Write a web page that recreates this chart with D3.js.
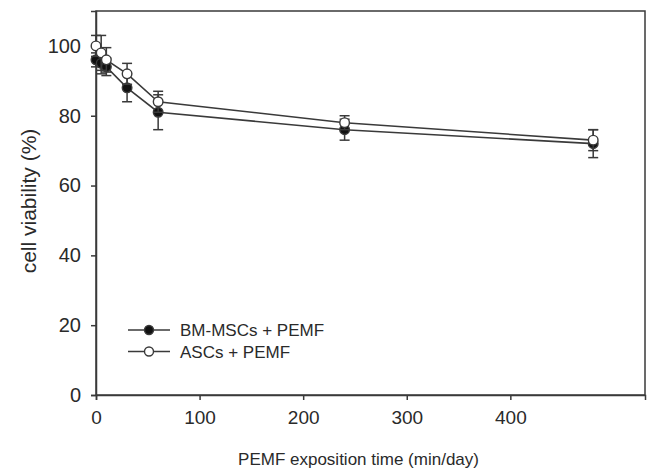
<!DOCTYPE html>
<meta charset="utf-8">
<script src="https://d3js.org/d3.v7.min.js"></script>
<style>
  body { margin: 0; background: #fff; }
  text { font-family: "Liberation Sans", Arial, sans-serif; fill: #2a2a2a; }
</style>
<div id="my_dataviz"></div>
<script>
// data
var times = [0, 5, 10, 30, 60, 240, 480];
var bmValues = [96, 95, 94, 88, 81, 76, 72];
var bmErrors = [2, 3, 2.5, 4, 5, 3, 4];
var ascValues = [100, 98, 96, 92, 84, 78, 73];
var ascErrors = [3, 5, 3.5, 3, 3, 2, 3];
var seriesNames = ["BM-MSCs + PEMF", "ASCs + PEMF"];
var xTicks = [0, 100, 200, 300, 400];
var yTicks = [0, 20, 40, 60, 80, 100];

var W = 649, H = 470;
var margin = {top: 11, right: 4, bottom: 75, left: 96},
    width = W - margin.left - margin.right,
    height = H - margin.top - margin.bottom;

var svg = d3.select("#my_dataviz")
  .append("svg")
    .attr("width", W)
    .attr("height", H)
  .append("g")
    .attr("transform", "translate(" + margin.left + "," + margin.top + ")");

var x = d3.scaleLinear().domain([0, 530]).range([0, width]);
var y = d3.scaleLinear().domain([0, 110]).range([height, 0]);

var ink = "#3a3a3a";

// frame
svg.append("rect")
  .attr("width", width).attr("height", height)
  .attr("fill", "none").attr("stroke", ink).attr("stroke-width", 1.5);

// axes
var xAxis = svg.append("g")
  .attr("transform", "translate(0," + height + ")")
  .call(d3.axisBottom(x).tickValues(xTicks).tickSize(5).tickPadding(11));
var yAxis = svg.append("g")
  .call(d3.axisLeft(y).tickValues(yTicks).tickSize(5).tickPadding(10));
[xAxis, yAxis].forEach(function (a) {
  a.select(".domain").attr("stroke", ink).attr("stroke-width", 1.5);
  a.selectAll(".tick line").attr("stroke", ink).attr("stroke-width", 1.5);
  a.selectAll(".tick text").style("font-size", "19px").attr("fill", "#2a2a2a");
});
yAxis.selectAll(".tick text").style("font-size", "20px");

// axis titles
svg.append("text")
  .attr("x", width / 2 - 12)
  .attr("y", height + 70)
  .style("text-anchor", "middle")
  .style("font-size", "17px")
  .text("PEMF exposition time (min/day)");

svg.append("text")
  .attr("transform", "rotate(-90)")
  .attr("x", -(height / 2) + 2)
  .attr("y", -60)
  .style("text-anchor", "middle")
  .style("font-size", "21px")
  .text("cell viability (%)");

var series = [
  {name: seriesNames[0], values: bmValues, errors: bmErrors, fill: "#111"},
  {name: seriesNames[1], values: ascValues, errors: ascErrors, fill: "#fff"}
];

var line = d3.line()
  .x(function (d) { return x(d.t); })
  .y(function (d) { return y(d.v); });

series.forEach(function (s) {
  var pts = times.map(function (t, i) { return {t: t, v: s.values[i], e: s.errors[i]}; });
  var g = svg.append("g");

  // error bars
  var eb = g.selectAll(".eb").data(pts).enter().append("g");
  eb.append("line")
    .attr("x1", function (d) { return x(d.t); }).attr("x2", function (d) { return x(d.t); })
    .attr("y1", function (d) { return y(d.v + d.e); }).attr("y2", function (d) { return y(d.v - d.e); })
    .attr("stroke", ink).attr("stroke-width", 1.5);
  [1, -1].forEach(function (sg) {
    eb.append("line")
      .attr("x1", function (d) { return x(d.t) - 5; }).attr("x2", function (d) { return x(d.t) + 5; })
      .attr("y1", function (d) { return y(d.v + sg * d.e); }).attr("y2", function (d) { return y(d.v + sg * d.e); })
      .attr("stroke", ink).attr("stroke-width", 1.5);
  });

  g.append("path")
    .datum(pts)
    .attr("d", line)
    .attr("fill", "none").attr("stroke", ink).attr("stroke-width", 1.6);

  g.selectAll("circle").data(pts).enter().append("circle")
    .attr("cx", function (d) { return x(d.t); })
    .attr("cy", function (d) { return y(d.v); })
    .attr("r", 4.8)
    .attr("fill", s.fill).attr("stroke", ink).attr("stroke-width", 1.4);
});

// legend
var legend = svg.append("g").attr("transform", "translate(32," + 319 + ")");
series.forEach(function (s, i) {
  var row = legend.append("g").attr("transform", "translate(0," + (i * 21.5) + ")");
  row.append("line").attr("x1", 0).attr("x2", 42).attr("y1", 0).attr("y2", 0)
    .attr("stroke", ink).attr("stroke-width", 1.6);
  row.append("circle").attr("cx", 21).attr("cy", 0).attr("r", 4.5)
    .attr("fill", s.fill).attr("stroke", ink).attr("stroke-width", 1.4);
  row.append("text").attr("x", 52).attr("y", 0).attr("dy", "0.36em")
    .style("font-size", "17px").text(s.name);
});
</script>
